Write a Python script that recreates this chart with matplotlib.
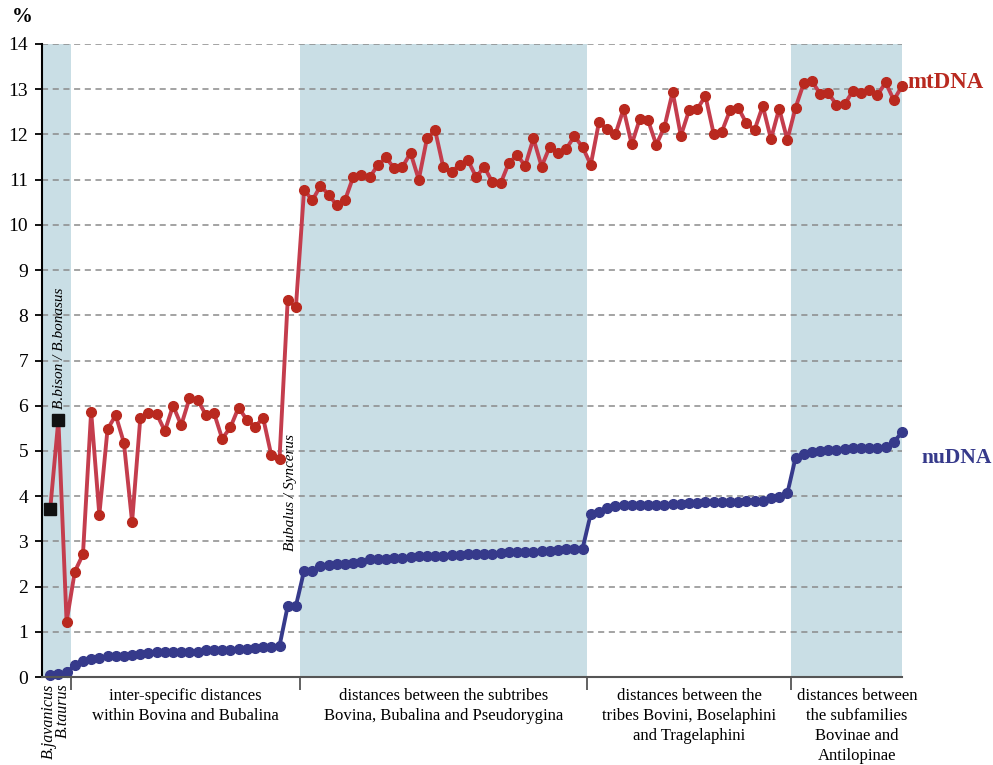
import matplotlib
matplotlib.use("Agg")
import matplotlib.pyplot as plt
import matplotlib.transforms as mtransforms
import numpy as np

plt.rcParams['font.family'] = ['Liberation Serif', 'DejaVu Serif']

# Pairwise distances (%), sorted within each taxonomic level
mtdna = [3.71, 5.69, 1.22, 2.33, 2.71, 5.87, 3.59, 5.48, 5.79, 5.18,
         3.43, 5.72, 5.83, 5.82, 5.44, 6.00, 5.57, 6.16, 6.13, 5.80,
         5.84, 5.27, 5.52, 5.96, 5.69, 5.53, 5.73, 4.90, 4.83, 8.34,
         8.18, 10.78, 10.54, 10.86, 10.67, 10.43, 10.55, 11.06, 11.10, 11.05,
         11.32, 11.49, 11.25, 11.28, 11.59, 11.00, 11.91, 12.09, 11.27, 11.17,
         11.33, 11.43, 11.06, 11.28, 10.94, 10.92, 11.37, 11.54, 11.31, 11.91,
         11.29, 11.73, 11.58, 11.68, 11.96, 11.72, 11.33, 12.27, 12.12, 12.00,
         12.56, 11.78, 12.35, 12.31, 11.77, 12.17, 12.94, 11.97, 12.53, 12.56,
         12.85, 12.02, 12.06, 12.53, 12.59, 12.25, 12.10, 12.63, 11.90, 12.57,
         11.88, 12.59, 13.13, 13.18, 12.90, 12.91, 12.66, 12.67, 12.96, 12.91,
         12.99, 12.87, 13.15, 12.76, 13.07]

nudna = [0.05, 0.07, 0.10, 0.26, 0.35, 0.40, 0.41, 0.46, 0.47, 0.47,
         0.49, 0.50, 0.52, 0.55, 0.55, 0.55, 0.56, 0.56, 0.56, 0.60,
         0.60, 0.60, 0.60, 0.62, 0.63, 0.64, 0.66, 0.66, 0.69, 1.57,
         1.57, 2.35, 2.35, 2.45, 2.48, 2.49, 2.51, 2.52, 2.54, 2.60,
         2.61, 2.61, 2.63, 2.63, 2.65, 2.67, 2.68, 2.68, 2.68, 2.70,
         2.70, 2.71, 2.71, 2.71, 2.71, 2.74, 2.76, 2.76, 2.76, 2.77,
         2.79, 2.79, 2.80, 2.82, 2.82, 2.84, 3.61, 3.66, 3.73, 3.79,
         3.81, 3.81, 3.81, 3.81, 3.81, 3.81, 3.82, 3.83, 3.84, 3.84,
         3.86, 3.87, 3.87, 3.87, 3.88, 3.89, 3.90, 3.90, 3.96, 3.98,
         4.06, 4.85, 4.93, 4.97, 5.00, 5.02, 5.03, 5.04, 5.06, 5.06,
         5.07, 5.07, 5.09, 5.20, 5.41]

# Number of comparisons in each taxonomic level
group_sizes = [3, 28, 35, 25, 14]
group_labels = [
    "inter-specific distances\nwithin Bovina and Bubalina",
    "distances between the subtribes\nBovina, Bubalina and Pseudorygina",
    "distances between the\ntribes Bovini, Boselaphini\nand Tragelaphini",
    "distances between\nthe subfamilies\nBovinae and\nAntilopinae",
]
shaded_groups = [0, 2, 4]
highlight_idx = [0, 1]   # intra-Bison / Bos pairs drawn as squares

RED_LINE = '#c43d4d'
RED_DOT = '#b9291f'
BLUE = '#363a8b'
BAND = '#c9dee5'

x = np.arange(len(mtdna))
bounds = np.concatenate([[0], np.cumsum(group_sizes)]) - 0.5
bounds[0] = -1
bounds[-1] = len(mtdna) - 1

fig = plt.figure(figsize=(9.93, 7.65), dpi=100)
ax = fig.add_axes([42 / 993, 1 - 677 / 765, (902 - 42) / 993, (677 - 44) / 765])

for g in shaded_groups:
    ax.axvspan(bounds[g], bounds[g + 1], color=BAND, lw=0, zorder=0)

ax.set_xlim(bounds[0], bounds[-1])
ax.set_ylim(0, 14)
ax.set_yticks(range(0, 15))
ax.yaxis.grid(True, linestyle=(0, (4, 3)), color='#8a8a8a', lw=1.1, zorder=1)
ax.set_axisbelow(True)

mt = np.array(mtdna)
nu = np.array(nudna)
ax.plot(x, mt, color=RED_LINE, lw=2.8, zorder=3, clip_on=False)
ax.plot(x[2:], mt[2:], 'o', color=RED_DOT, ms=7, zorder=4, clip_on=False)
ax.plot(x[highlight_idx], mt[highlight_idx], 's', color='#111111', ms=8.5,
        zorder=5, clip_on=False)
ax.plot(x, nu, color=BLUE, lw=2.8, marker='o', ms=7, zorder=3, clip_on=False)

# axes styling
for s in ['top', 'right']:
    ax.spines[s].set_visible(False)
ax.spines['left'].set_linewidth(1.5)
ax.spines['left'].set_color('black')
ax.spines['bottom'].set_linewidth(1.5)
ax.spines['bottom'].set_color('#555555')
ax.spines['bottom'].set_zorder(6)
ax.set_xticks(bounds[1:-1])
ax.set_xticklabels([])
ax.tick_params(axis='x', direction='out', length=9, width=1.3, color='#555555')
ax.tick_params(axis='y', direction='out', length=5, width=1.3, labelsize=14, pad=5)

# group labels under the axis
trans = mtransforms.blended_transform_factory(ax.transData, ax.transAxes)
centers = [(bounds[i] + bounds[i + 1]) / 2 for i in range(1, 4)] + [98.5]
for c, lab in zip(centers, group_labels):
    ax.text(c, -0.018, lab, transform=trans, ha='center', va='top',
            fontsize=12, linespacing=1.32)

ax.text(-0.2, -0.01, "B.javanicus", transform=trans, rotation=90, ha='center',
        va='top', fontsize=11.5, style='italic')
ax.text(1.6, -0.01, "B.taurus", transform=trans, rotation=90, ha='center',
        va='top', fontsize=11.5, style='italic')
ax.text(1.1, 5.92, "B.bison / B.bonasus", rotation=90, ha='center', va='bottom',
        fontsize=11, style='italic')
ax.text(29.3, 2.78, "Bubalus / Syncerus", rotation=90, ha='center', va='bottom',
        fontsize=11, style='italic')

# series labels
ax.text(104.6, 13.14, "mtDNA", color=RED_DOT, fontsize=16.5, fontweight='bold',
        ha='left', va='center', clip_on=False)
ax.text(106.4, 4.84, "nuDNA", color=BLUE, fontsize=15.5, fontweight='bold',
        ha='left', va='center', clip_on=False)

fig.text(22 / 993, 1 - 17 / 765, "%", fontsize=15, fontweight='bold',
         ha='center', va='center')

fig.savefig("out.png", dpi=100)
